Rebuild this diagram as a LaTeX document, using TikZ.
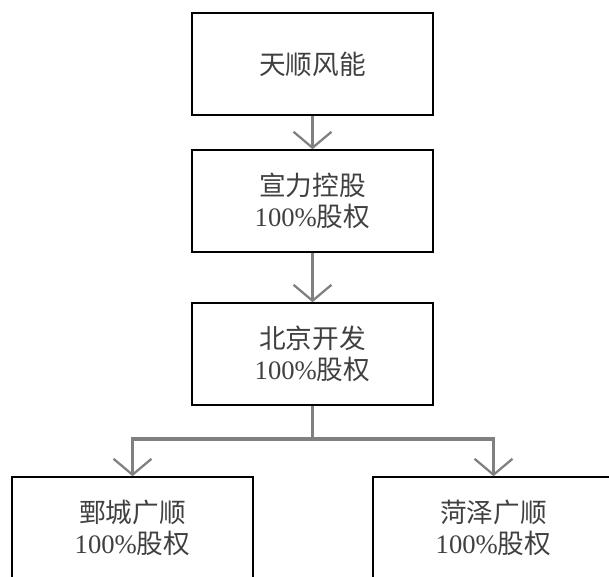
\documentclass[tikz,border=0pt]{standalone}
\usepackage{fontspec}
\setmainfont{Liberation Serif}
\newfontfamily\cjk{Noto Sans CJK SC}
\usetikzlibrary{arrows.meta}

\begin{document}
\begin{tikzpicture}[x = 0.75pt, y = 0.75pt,
        box/.style = {draw, line width = 0.4mm, minimum width = 180.75pt, minimum height = 76.5pt,
                      align = center, text = black!75, font = \fontsize{20}{23}\selectfont},
        link/.style = {draw = black!50, line width = 0.8mm},
        arr/.style = {link, -{Straight Barb[length = 4.2mm, width = 10mm, line width = 0.6mm]}}]

                    \useasboundingbox (0,0) rectangle (609,576);
                    \clip (0,0) rectangle (609,576);

                    % Boxes
                    \node[box] (tianshun) at (312.5,512) {{\cjk 天顺风能}};
                    \node[box] (xuanli) at (312.5,375) {{\cjk 宣力控股}\\100\%{\cjk 股权}};
                    \node[box] (beijing) at (312.5,222) {{\cjk 北京开发}\\100\%{\cjk 股权}};
                    \node[box] (juancheng) at (132.5,48) {{\cjk 鄄城广顺}\\100\%{\cjk 股权}};
                    \node[box] (heze) at (493.5,48) {{\cjk 菏泽广顺}\\100\%{\cjk 股权}};

                    % Arrows
                    \draw[arr] (tianshun) -- (xuanli);
                    \draw[arr] (xuanli) -- (beijing);
                    \coordinate (split) at (312.5,137);
                    \draw[link] (beijing.south) -- (split);
                    \draw[arr] (split) -| (juancheng.north);
                    \draw[arr] (split) -| (heze.north);

                \end{tikzpicture}
\end{document}
